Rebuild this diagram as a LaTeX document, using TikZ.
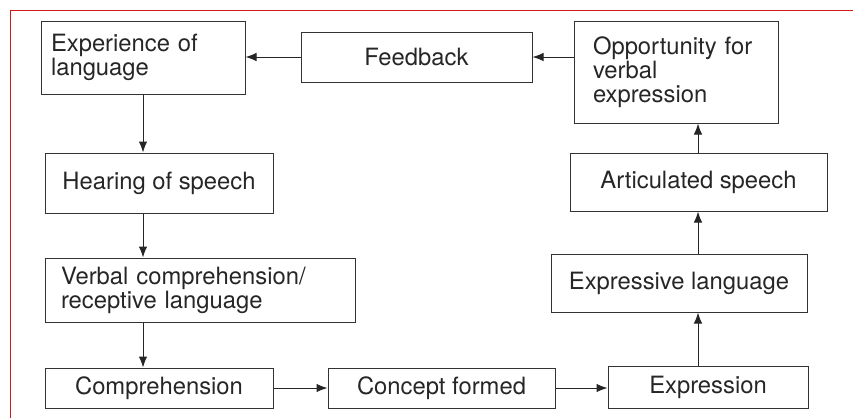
\documentclass[tikz,border=0pt]{standalone}
\usepackage{fontspec}
\setmainfont{TeX Gyre Heros}
\usetikzlibrary{arrows.meta}

\tikzset{
    box/.style={draw=black!80, line width=1pt, text=black!85, inner sep=0pt,
        font=\fontsize{23.8}{24}\selectfont},
    leftbox/.style={box, align=left},
    arrow/.style={draw=black!85, line width=1pt, -{Latex[length=11pt,width=8.5pt]}}
}

\begin{document}
\begin{tikzpicture}[x=1pt, y=-1pt]

    \useasboundingbox (0, 0) rectangle (853, 418);

    % Red frame (left and top)
    \draw[red!80!black!90, line width=1pt] (10.5, 418) -- (10.5, 10.5) -- (853, 10.5);

    % Columns of the vertical arrows
    \coordinate (lcol) at (143, 0);
    \coordinate (rcol) at (698, 0);

    % Make the boxes
    \node[leftbox, minimum width=204, minimum height=73, text width=184] (exper) at (143, 57.5) {Experience of\\language};
    \node[box, minimum width=231, minimum height=50] (feed) at (416.5, 57) {Feedback};
    \node[leftbox, minimum width=204, minimum height=102, text width=166] (oppor) at (676, 72) {Opportunity for\\verbal\\expression};
    \node[box, minimum width=228, minimum height=60] (hear) at (159, 183) {Hearing of speech};
    \node[leftbox, minimum width=310, minimum height=64, text width=278] (verbal) at (200, 290) {Verbal comprehension/\\receptive language};
    \node[box, minimum width=228, minimum height=40] (compr) at (159, 388) {Comprehension};
    \node[box, minimum width=227, minimum height=40] (concept) at (441.5, 388) {Concept formed};
    \node[box, minimum width=200, minimum height=42] (expr) at (708, 387) {Expression};
    \node[box, minimum width=256, minimum height=58] (expl) at (679, 283) {Expressive language};
    \node[box, minimum width=257, minimum height=58] (artic) at (698.5, 182) {Articulated speech};

    % Left column, going down
    \draw[arrow] (lcol |- exper.south) -- (lcol |- hear.north);
    \draw[arrow] (lcol |- hear.south) -- (lcol |- verbal.north);
    \draw[arrow] (lcol |- verbal.south) -- (lcol |- compr.north);

    % Bottom row
    \draw[arrow] (compr.east) -- (concept.west);
    \draw[arrow] (concept.east) -- (concept.east -| expr.west);

    % Right column, going up
    \draw[arrow] (rcol |- expr.north) -- (rcol |- expl.south);
    \draw[arrow] (rcol |- expl.north) -- (rcol |- artic.south);
    \draw[arrow] (rcol |- artic.north) -- (rcol |- oppor.south);

    % Top row, back to the start
    \draw[arrow] (oppor.west |- feed.east) -- (feed.east);
    \draw[arrow] (feed.west) -- (feed.west -| exper.east);

\end{tikzpicture}
\end{document}
